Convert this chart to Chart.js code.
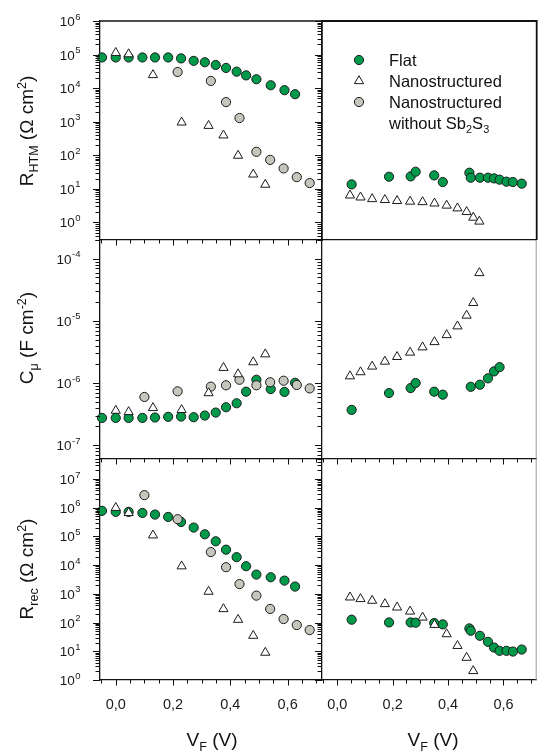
<!DOCTYPE html>
<html lang="pt">
<head>
<meta charset="utf-8">
<title>R_HTM, C_mu e R_rec vs V_F</title>
<script src="https://cdn.jsdelivr.net/npm/chart.js@4.4.1/dist/chart.umd.min.js"></script>
<style>
  body { margin: 0; background: #fff; font-family: Arial, "Liberation Sans", sans-serif; color: #111; }
  #fig { position: relative; width: 543px; height: 753px; overflow: hidden; }
  #fig canvas { position: absolute; }
  .ytit { position: absolute; font-size: 19px; white-space: nowrap; transform: translate(-50%, -50%) rotate(-90deg); }
  .xtit { position: absolute; font-size: 19px; white-space: nowrap; transform: translate(-50%, -50%); }
  sub, sup { font-size: 66%; line-height: 0; }
  .leg { position: absolute; left: 389px; font-size: 16.5px; line-height: 20px; white-space: nowrap; }
  .mk { position: absolute; }
</style>
</head>
<body>
<div id="fig">
  <canvas id="c1" width="330" height="250" style="left:0;top:0"></canvas>
  <canvas id="c2" width="231" height="250" style="left:312px;top:0"></canvas>
  <canvas id="c3" width="330" height="240" style="left:0;top:230px"></canvas>
  <canvas id="c4" width="231" height="240" style="left:312px;top:230px"></canvas>
  <canvas id="c5" width="330" height="304" style="left:0;top:449px"></canvas>
  <canvas id="c6" width="231" height="304" style="left:312px;top:449px"></canvas>

  <div class="ytit" style="left:27px;top:131px">R<sub>HTM</sub> (&Omega; cm<sup>2</sup>)</div>
  <div class="ytit" style="left:27px;top:338px">C<sub>&mu;</sub> (F cm<sup>-2</sup>)</div>
  <div class="ytit" style="left:27px;top:569px">R<sub>rec</sub> (&Omega; cm<sup>2</sup>)</div>
  <div class="xtit" style="left:212px;top:740px">V<sub>F</sub> (V)</div>
  <div class="xtit" style="left:433px;top:740px">V<sub>F</sub> (V)</div>

  <!-- legenda -->
  <svg class="mk" style="left:353px;top:54px" width="12" height="12"><circle cx="6" cy="6" r="4.6" fill="#019a4b" stroke="#1b1b1b"/></svg>
  <svg class="mk" style="left:353px;top:75px" width="12" height="12"><polygon points="6,0.7 10.6,8.65 1.4,8.65" fill="#fff" stroke="#1b1b1b"/></svg>
  <svg class="mk" style="left:353px;top:96px" width="12" height="12"><circle cx="6" cy="6" r="4.6" fill="#c5c7bd" stroke="#1b1b1b"/></svg>
  <div class="leg" style="top:50px">Flat</div>
  <div class="leg" style="top:71px">Nanostructured</div>
  <div class="leg" style="top:92px">Nanostructured</div>
  <div class="leg" style="top:113px">without Sb<sub>2</sub>S<sub>3</sub></div>
</div>

<script>
// Tensões (V) de cada série — coluna da esquerda e da direita
const vFlatL = [-0.048, 0, 0.045, 0.093, 0.137, 0.183, 0.228, 0.272, 0.311, 0.349, 0.385, 0.422, 0.455, 0.491, 0.541, 0.589, 0.626];
const vNanoL = [0, 0.045, 0.13, 0.23, 0.324, 0.376, 0.427, 0.48, 0.522];
const vSemSbL = [0.1, 0.216, 0.332, 0.385, 0.432, 0.491, 0.539, 0.586, 0.632, 0.677];
const vFlatR = [0.052, 0.187, 0.265, 0.283, 0.350, 0.381, 0.477, 0.482, 0.515, 0.544, 0.566, 0.586, 0.611, 0.634, 0.666];
const vNanoR = [0.046, 0.084, 0.126, 0.172, 0.216, 0.263, 0.308, 0.351, 0.395, 0.434, 0.467, 0.491, 0.513];

// R_HTM (Ohm cm2)
const rhtmFlatL = [8.2e4, 8.2e4, 8.2e4, 8.2e4, 8.2e4, 8.2e4, 7.7e4, 6.5e4, 5.9e4, 4.9e4, 4.0e4, 3.1e4, 2.4e4, 1.84e4, 1.22e4, 8.7e3, 6.6e3];
const rhtmNanoL = [1.13e5, 1.03e5, 2.47e4, 955, 759, 394, 98, 27, 13.4];
const rhtmSemSbL = [null, 3.03e4, 1.64e4, 3.84e3, 1.29e3, 127, 73, 40.6, 22.4, 14.9];
const rhtmFlatR = [13.6, 23, 23.5, 32.4, 25.2, 16, 30.3, 21.5, 21.5, 21.5, 20.5, 18.8, 16.4, 16, 14.3];
const rhtmNanoR = [6.4, 5.6, 5.0, 4.7, 4.4, 4.2, 4.07, 3.7, 3.2, 2.65, 2.06, 1.4, 1.07];

// C_mu (F cm-2)
const cFlatL = [2.75e-7, 2.75e-7, 2.75e-7, 2.75e-7, 2.79e-7, 2.86e-7, 2.89e-7, 2.82e-7, 3.0e-7, 3.35e-7, 4.08e-7, 4.73e-7, 7.26e-7, 1.13e-6, 8.0e-7, 7.2e-7, 1.01e-6];
const cNanoL = [3.6e-7, 3.43e-7, 3.98e-7, 3.7e-7, 6.9e-7, 1.76e-6, 1.39e-6, 2.17e-6, 2.91e-6];
const cSemSbL = [5.97e-7, 7.36e-7, 8.75e-7, 9.2e-7, 1.13e-6, 9.2e-7, 1.03e-6, 1.09e-6, 9.3e-7, 8.2e-7];
const cFlatR = [3.7e-7, 6.9e-7, 8.3e-7, 1.0e-6, 7.26e-7, 6.5e-7, null, 8.7e-7, 9.4e-7, 1.19e-6, 1.54e-6, 1.8e-6, null, null, null];
const cNanoR = [1.29e-6, 1.5e-6, 1.85e-6, 2.22e-6, 2.64e-6, 3.1e-6, 3.77e-6, 4.58e-6, 5.93e-6, 8.2e-6, 1.22e-5, 1.95e-5, 5.9e-5];

// R_rec (Ohm cm2)
const rrecFlatL = [7.8e5, 7.2e5, 7.2e5, 6.6e5, 5.8e5, 4.8e5, 3.2e5, 2.04e5, 1.19e5, 6.8e4, 3.46e4, 1.9e4, 9.2e3, 4.7e3, 3.8e3, 2.9e3, 1.8e3];
const rrecNanoL = [1.0e6, 6.6e5, 1.1e5, 9.2e3, 1.2e3, 298, 126, 35, 9.0];
const rrecSemSbL = [2.75e6, 4.0e5, 2.86e4, 8.5e3, 2.2e3, 870, 298, 133, 82, 55];
const rrecFlatR = [126, 101, 101, 99, 96, 86.5, 62.7, 51.9, 34.7, 21.4, 13.5, 10.4, 10.4, 9.8, 11.5];
const rrecNanoR = [759, 667, 582, 445, 339, 245, 151, 84, 39.8, 15.5, 6.0, 2.07, null];

// Marcas do eixo x
const X_MIN = -0.055, X_MAX = 0.72;
const X_MAJOR = [0, 0.2, 0.4, 0.6];
const X_MINOR = [-0.05, 0, 0.05, 0.1, 0.15, 0.2, 0.25, 0.3, 0.35, 0.4, 0.45, 0.5, 0.55, 0.6, 0.65, 0.7];

const FAMILIA = 'Arial, "Liberation Sans", sans-serif';

const ESTILO = {
  flat: { pointStyle: 'circle', pointRadius: 4.6, pointBackgroundColor: '#019a4b', pointBorderColor: '#1b1b1b', pointBorderWidth: 1, order: 2 },
  nano: { pointStyle: 'triangle', pointRadius: 5.3, pointBackgroundColor: '#ffffff', pointBorderColor: '#1b1b1b', pointBorderWidth: 1, order: 0 },
  semSb: { pointStyle: 'circle', pointRadius: 4.6, pointBackgroundColor: '#c5c7bd', pointBorderColor: '#1b1b1b', pointBorderWidth: 1, order: 1 }
};

function serie(nome, xs, ys, est) {
  return Object.assign({
    label: nome,
    data: xs.map((x, i) => ({ x: x, y: ys[i] })).filter(p => p.y != null),
    showLine: false,
    clip: false
  }, est);
}

function eixoX(altura, rotulos) {
  return {
    type: 'linear', min: X_MIN, max: X_MAX,
    afterBuildTicks: s => { s.ticks = X_MAJOR.map(v => ({ value: v })); },
    afterFit: s => { s.height = altura; s.paddingLeft = 0; s.paddingRight = 0; },
    grid: { display: false, drawTicks: false },
    border: { display: true, color: '#111', width: 1.3 },
    ticks: {
      display: rotulos, padding: 16, color: '#1a1a1a', font: { family: FAMILIA, size: 14.5 },
      autoSkip: false, maxRotation: 0,
      callback: v => Number(v).toFixed(1).replace('.', ',')
    }
  };
}

// Eixo log: os rótulos 10^n são escritos pelo plugin (expoente em sobrescrito)
function eixoY(min, max, largura, larguraBorda) {
  return {
    type: 'logarithmic', min: min, max: max,
    afterBuildTicks: s => {
      const t = [];
      const e0 = Math.ceil(Math.log10(min) - 1e-9), e1 = Math.floor(Math.log10(max) + 1e-9);
      for (let e = e0; e <= e1; e++) t.push({ value: Math.pow(10, e) });
      s.ticks = t;
    },
    afterFit: s => { s.width = largura; s.paddingTop = 0; s.paddingBottom = 0; },
    grid: { display: false, drawTicks: false },
    border: { display: true, color: '#111', width: larguraBorda || 1.3 },
    ticks: { display: false }
  };
}

// Desenha os tracinhos dos eixos (maiores e menores), rótulos 10^n e as bordas extras
const marcas = {
  id: 'marcas',
  afterDraw(chart, args, o) {
    const { ctx, chartArea: a } = chart;
    const x = chart.scales.x, y = chart.scales.y;
    ctx.save();
    ctx.strokeStyle = '#111';
    ctx.lineWidth = 1;
    ctx.beginPath();
    if (o.ticksX) {
      X_MINOR.forEach(v => {
        const px = Math.round(x.getPixelForValue(v)) + 0.5;
        const len = X_MAJOR.some(m => Math.abs(m - v) < 1e-6) ? 5.5 : 3.5;
        ctx.moveTo(px, a.bottom);
        ctx.lineTo(px, a.bottom + len);
      });
    }
    const e0 = Math.floor(Math.log10(y.min)), e1 = Math.ceil(Math.log10(y.max));
    for (let e = e0; e <= e1; e++) {
      for (let k = 1; k <= 9; k++) {
        const v = k * Math.pow(10, e);
        if (v < y.min * 0.999 || v > y.max * 1.001) continue;
        const py = Math.round(y.getPixelForValue(v)) + 0.5;
        const len = k === 1 ? 7 : 4.5;
        ctx.moveTo(a.left - len, py);
        ctx.lineTo(a.left, py);
      }
    }
    ctx.stroke();

    if (o.rotulosY) {
      ctx.fillStyle = '#1a1a1a';
      ctx.textBaseline = 'alphabetic';
      y.ticks.forEach(t => {
        const py = y.getPixelForValue(t.value);
        const exp = String(Math.round(Math.log10(t.value)));
        ctx.font = '9.5px ' + FAMILIA;
        const wExp = ctx.measureText(exp).width;
        ctx.font = '13.5px ' + FAMILIA;
        const wBase = ctx.measureText('10').width;
        const fim = a.left - 20;
        ctx.fillText('10', fim - wExp - wBase, py + 5);
        ctx.font = '9.5px ' + FAMILIA;
        ctx.fillText(exp, fim - wExp + 0.5, py - 1.5);
      });
    }

    if (o.topo) {
      ctx.lineWidth = 1.3;
      ctx.beginPath();
      ctx.moveTo(a.left, a.top);
      ctx.lineTo(a.right + 1, a.top);
      ctx.stroke();
    }
    if (o.caixa) {
      ctx.lineWidth = 1.8;
      ctx.beginPath();
      ctx.moveTo(a.left, a.top);
      ctx.lineTo(a.right, a.top);
      ctx.lineTo(a.right, a.bottom);
      ctx.stroke();
    }
    if (o.direita) {
      ctx.strokeStyle = '#9a9a9a';
      ctx.lineWidth = 1;
      ctx.beginPath();
      ctx.moveTo(a.right - 0.5, a.top);
      ctx.lineTo(a.right - 0.5, a.bottom);
      ctx.stroke();
    }
    ctx.restore();
  }
};

function painel(id, cfg) {
  return new Chart(document.getElementById(id), {
    type: 'scatter',
    data: { datasets: cfg.series },
    options: {
      responsive: false,
      animation: false,
      devicePixelRatio: 1,
      layout: { padding: { top: cfg.pt, right: cfg.pr, left: 0, bottom: 0 } },
      scales: {
        x: eixoX(cfg.xh, cfg.xlab),
        y: eixoY(cfg.ymin, cfg.ymax, cfg.yw, cfg.borda)
      },
      plugins: {
        legend: { display: false },
        tooltip: { enabled: false },
        marcas: cfg.marcas
      }
    },
    plugins: [marcas]
  });
}

// Faixas dos eixos y de cada linha
const Y_RHTM = [0.32, 1e6];
const Y_CMU = [6.36e-8, 2.0e-4];
const Y_RREC = [1, 5.0e7];

// Linha de cima: R_HTM
painel('c1', {
  pt: 21, pr: 8, xh: 10, yw: 100, xlab: false,
  ymin: Y_RHTM[0], ymax: Y_RHTM[1],
  marcas: { ticksX: true, topo: true, rotulosY: true },
  series: [
    serie('Flat', vFlatL, rhtmFlatL, ESTILO.flat),
    serie('Nanostructured', vNanoL, rhtmNanoL, ESTILO.nano),
    serie('Nanostructured without Sb2S3', vSemSbL, rhtmSemSbL, ESTILO.semSb)
  ]
});
painel('c2', {
  pt: 21, pr: 1, xh: 10, yw: 10, xlab: false, borda: 1.8,
  ymin: Y_RHTM[0], ymax: Y_RHTM[1],
  marcas: { ticksX: false, caixa: true },
  series: [
    serie('Flat', vFlatR, rhtmFlatR, ESTILO.flat),
    serie('Nanostructured', vNanoR, rhtmNanoR, ESTILO.nano)
  ]
});

// Linha do meio: C_mu
painel('c3', {
  pt: 10, pr: 8, xh: 11, yw: 100, xlab: false,
  ymin: Y_CMU[0], ymax: Y_CMU[1],
  marcas: { ticksX: true, rotulosY: true },
  series: [
    serie('Flat', vFlatL, cFlatL, ESTILO.flat),
    serie('Nanostructured', vNanoL, cNanoL, ESTILO.nano),
    serie('Nanostructured without Sb2S3', vSemSbL, cSemSbL, ESTILO.semSb)
  ]
});
painel('c4', {
  pt: 10, pr: 1, xh: 11, yw: 10, xlab: false,
  ymin: Y_CMU[0], ymax: Y_CMU[1],
  marcas: { ticksX: true, direita: true },
  series: [
    serie('Flat', vFlatR, cFlatR, ESTILO.flat),
    serie('Nanostructured', vNanoR, cNanoR, ESTILO.nano)
  ]
});

// Linha de baixo: R_rec
painel('c5', {
  pt: 10, pr: 8, xh: 73, yw: 100, xlab: true,
  ymin: Y_RREC[0], ymax: Y_RREC[1],
  marcas: { ticksX: true, rotulosY: true },
  series: [
    serie('Flat', vFlatL, rrecFlatL, ESTILO.flat),
    serie('Nanostructured', vNanoL, rrecNanoL, ESTILO.nano),
    serie('Nanostructured without Sb2S3', vSemSbL, rrecSemSbL, ESTILO.semSb)
  ]
});
painel('c6', {
  pt: 10, pr: 1, xh: 73, yw: 10, xlab: true,
  ymin: Y_RREC[0], ymax: Y_RREC[1],
  marcas: { ticksX: true, direita: true },
  series: [
    serie('Flat', vFlatR, rrecFlatR, ESTILO.flat),
    serie('Nanostructured', vNanoR, rrecNanoR, ESTILO.nano)
  ]
});
</script>
</body>
</html>
